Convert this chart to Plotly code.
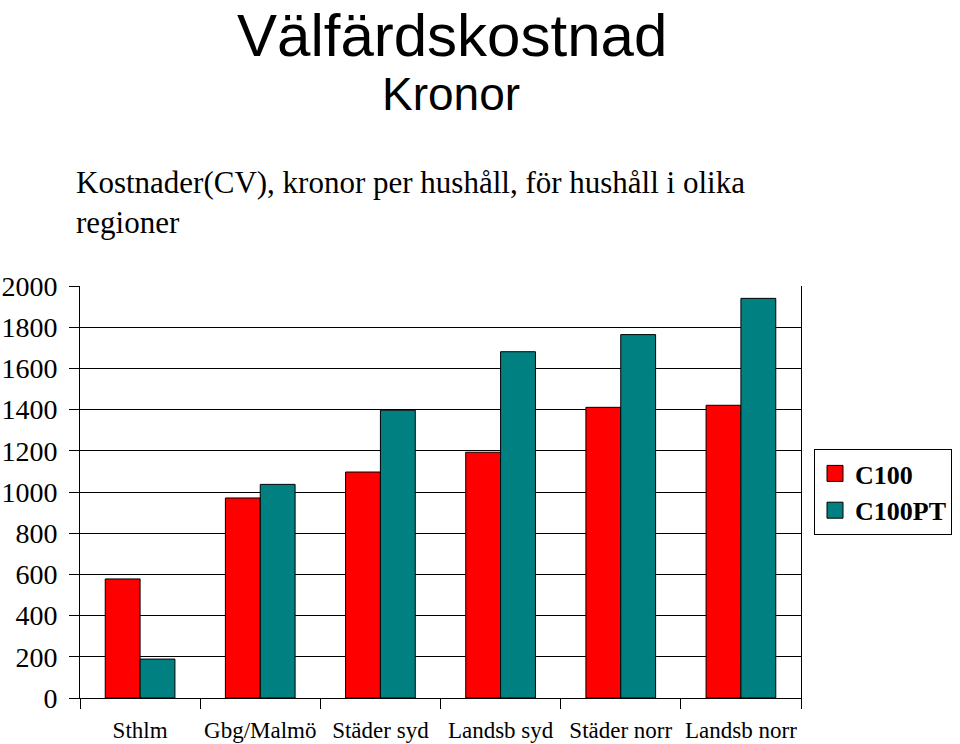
import plotly.graph_objects as go

categories = ["Sthlm", "Gbg/Malmö", "Städer syd", "Landsb syd", "Städer norr", "Landsb norr"]
c100 = [578, 971, 1097, 1193, 1411, 1421]
c100pt = [189, 1037, 1397, 1681, 1764, 1940]
series_names = ["C100", "C100PT"]
colors = ["#FF0000", "#008080"]
y_ticks = [0, 200, 400, 600, 800, 1000, 1200, 1400, 1600, 1800, 2000]

fig = go.Figure()
for name, vals, col in zip(series_names, [c100, c100pt], colors):
    fig.add_trace(go.Bar(x=categories, y=vals, name=name, showlegend=False,
                         marker=dict(color=col, line=dict(color="black", width=1))))
    fig.add_trace(go.Scatter(x=[None], y=[None], mode="markers", name=name,
                             marker=dict(symbol="square", size=18, color=col,
                                         line=dict(color="black", width=1))))

L, R, T, B = 80, 159, 286, 46
H = 744 - T - B
W = 960 - L - R

def py(px):
    return (744 - B - px) / H

def pxx(px):
    return (px - L) / W

fig.update_layout(
    width=960, height=744,
    margin=dict(l=L, r=R, t=T, b=B, autoexpand=False),
    paper_bgcolor="white", plot_bgcolor="white",
    barmode="group", bargap=0.42, bargroupgap=0,
    font=dict(family="Liberation Serif", color="black"),
    legend=dict(x=pxx(814), xanchor="left", y=0.5, yanchor="middle",
                bordercolor="black", borderwidth=1, bgcolor="white",
                font=dict(family="Liberation Serif", size=26, color="black", weight="bold"),
                tracegroupgap=0, itemwidth=30),
    annotations=[
        dict(text="Välfärdskostnad", xref="paper", yref="paper", x=pxx(452), y=py(0),
             xanchor="center", yanchor="top", showarrow=False,
             font=dict(family="Liberation Sans", size=60, color="black")),
        dict(text="Kronor", xref="paper", yref="paper", x=pxx(451), y=py(94),
             xanchor="center", yanchor="middle", showarrow=False,
             font=dict(family="Liberation Sans", size=46, color="black")),
        dict(text="Kostnader(CV), kronor per hushåll, för hushåll i olika<br>regioner",
             xref="paper", yref="paper", x=pxx(74), y=py(202),
             xanchor="left", yanchor="middle", align="left", showarrow=False,
             font=dict(family="Liberation Serif", size=31, color="black")),
    ],
)
fig.update_yaxes(range=[0, 2000], tickvals=y_ticks, showgrid=True, gridcolor="black", gridwidth=1,
                 showline=True, linecolor="black", linewidth=1, mirror=True,
                 ticks="outside", ticklen=10, tickcolor="black",
                 tickfont=dict(family="Liberation Serif", size=28, color="black"),
                 ticklabelstandoff=6,
                 zeroline=False, fixedrange=True, automargin=False)
fig.update_xaxes(showline=True, linecolor="black", linewidth=1, showgrid=False,
                 ticks="outside", tickson="boundaries", ticklen=10, tickcolor="black",
                 tickfont=dict(family="Liberation Serif", size=23, color="black"),
                 tickangle=0, ticklabelstandoff=11, automargin=False)

fig.write_html("out.html")
